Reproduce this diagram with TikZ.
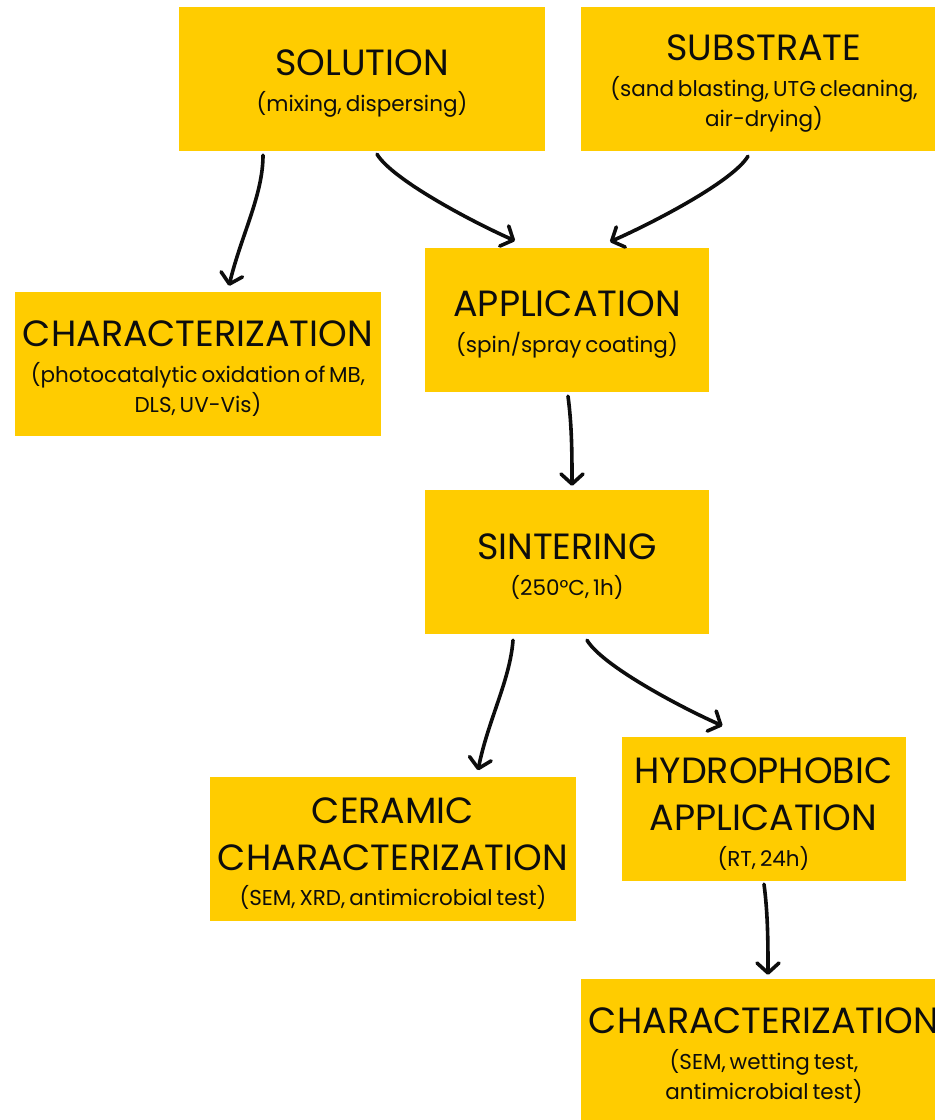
\documentclass[tikz,border=0pt]{standalone}
\usepackage{fontspec}
\setmainfont{Poppins}
\usetikzlibrary{arrows.meta,calc}
\definecolor{gold}{HTML}{FFCC00}
\definecolor{ink}{HTML}{0D0D0D}
\newcommand\boxtitle[1]{{\fontsize{36.5}{36}\selectfont #1}}
\newcommand\toptitle[1]{\boxtitle{\rule{0pt}{35pt}#1}}
\newcommand\boxfont{\fontsize{21.5}{30}\selectfont\spaceskip 0.18em plus 0.05em\relax}
\tikzset{
  box/.style={fill=gold, minimum width=366pt, minimum height=144pt, align=center,
    inner sep=0pt, text=ink, font=\boxfont},
  narrow/.style={box, minimum width=284pt},
  flow/.style={line width=3.6pt, line cap=round, draw=ink,
    -{Straight Barb[length=10pt,width=22pt,round]}}
}
\begin{document}
\begin{tikzpicture}[x=1pt,y=-1pt]
\useasboundingbox (0,0) rectangle (935,1120);
\node[box] (sol) at (362,79) {\toptitle{SOLUTION}\\[6pt](mixing, dispersing)};
\node[box] (sub) at (764,79) {\toptitle{SUBSTRATE}\\[6pt](sand blasting, UTG cleaning,\\air-drying)};
\node[box] (charL) at (198,364) {\toptitle{CHARACTERIZATION}\\[6pt](photocatalytic oxidation of MB,\\DLS, UV-Vis)};
\node[narrow] (app) at (567,320) {\toptitle{APPLICATION}\\[6pt](spin/spray coating)};
\node[narrow] (sin) at (567,562) {\toptitle{SINTERING}\\[6pt](250°C, 1h)};
\node[box] (cer) at (393,848.5) {\toptitle{CERAMIC}\\[17pt]\boxtitle{CHARACTERIZATION}\\[5pt](SEM, XRD, antimicrobial test)};
\node[narrow] (hyd) at (763.5,809) {\toptitle{HYDROPHOBIC}\\[17pt]\boxtitle{APPLICATION}\\[6pt](RT, 24h)};
\node[box] (charB) at (764,1051) {\toptitle{CHARACTERIZATION}\\[6pt](SEM, wetting test,\\antimicrobial test)};

\draw[flow] ($(sol.south)+(-99,4)$) .. controls +(0,40) and +(12,-50) .. ($(charL.north)+(31,-6)$);
\draw[flow] ($(sol.south)+(15,3)$) .. controls +(15,25) and +(-45,-20) .. ($(app.north)+(-52,-7)$);
\draw[flow] ($(sub.south)+(-16,5)$) .. controls +(-15,25) and +(45,-20) .. ($(app.north)+(43,-6)$);
\draw[flow] ($(app.south)+(1,4)$) .. controls +(4,30) and +(0,-30) .. ($(sin.north)+(5,-4)$);
\draw[flow] ($(sin.south)+(-54,6)$) .. controls +(-3,40) and +(10,-50) .. ($(cer.north)+(85,-6)$);
\draw[flow] ($(sin.south)+(20,6)$) .. controls +(15,25) and +(-45,-20) .. ($(hyd.north)+(-41,-11)$);
\draw[flow] ($(hyd.south)+(0.5,3)$) .. controls +(4,30) and +(0,-30) .. ($(charB.north)+(4,-4)$);
\end{tikzpicture}
\end{document}
